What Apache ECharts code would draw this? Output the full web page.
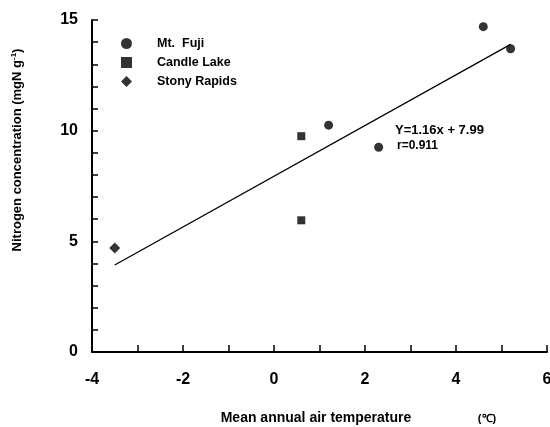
<!DOCTYPE html>
<html>
<head>
<meta charset="utf-8">
<script src="https://cdn.jsdelivr.net/npm/echarts@6/dist/echarts.min.js"></script>
<style>
  html, body { margin: 0; padding: 0; background: #fff; }
  #chart { width: 550px; height: 427px; }
</style>
</head>
<body>
<div id="chart"></div>
<script>
// data
var fujiX = [1.2, 2.3, 4.6, 5.2];
var fujiY = [10.25, 9.25, 14.7, 13.7];
var candleX = [0.6, 0.6];
var candleY = [9.75, 5.95];
var stonyX = [-3.5];
var stonyY = [4.7];
var fitX = [-3.5, 5.2];
var fitY = [3.93, 13.9];
var xTicks = [-4, -2, 0, 2, 4, 6];
var yTicks = [0, 5, 10, 15];

function pairs(xs, ys) {
    return xs.map(function (x, i) { return [x, ys[i]]; });
}

var font = 'Liberation Sans, Arial, sans-serif';
var chart = echarts.init(document.getElementById('chart'));

chart.setOption({
    animation: false,
    grid: { left: 92, right: 3, top: 20, bottom: 75, outerBoundsMode: 'none' },
    legend: {
        orient: 'vertical',
        left: 121,
        top: 37,
        padding: 0,
        itemWidth: 11,
        itemHeight: 11,
        itemGap: 6,
        textStyle: { fontFamily: font, fontSize: 12.5, fontWeight: 'bold', color: '#000', padding: [0, 0, 0, 20] },
        data: [
            { name: 'Mt.  Fuji', icon: 'circle' },
            { name: 'Candle Lake', icon: 'rect' },
            { name: 'Stony Rapids', icon: 'diamond' }
        ]
    },
    xAxis: {
        type: 'value',
        min: xTicks[0],
        max: xTicks[xTicks.length - 1],
        interval: 2,
        axisLine: { onZero: false, lineStyle: { color: '#000', width: 2 } },
        axisTick: { inside: true, length: 7, lineStyle: { color: '#000', width: 1.5 } },
        minorTick: { show: true, splitNumber: 2, length: 7, lineStyle: { color: '#000', width: 1.5 } },
        splitLine: { show: false },
        axisLabel: { margin: 20, fontFamily: font, fontSize: 16, fontWeight: 'bold', color: '#000' }
    },
    yAxis: {
        type: 'value',
        min: yTicks[0],
        max: yTicks[yTicks.length - 1],
        interval: 5,
        axisLine: { show: true, onZero: false, lineStyle: { color: '#000', width: 2 } },
        axisTick: { show: true, inside: true, length: 6, lineStyle: { color: '#000', width: 1.5 } },
        minorTick: { show: true, splitNumber: 5, length: 6, lineStyle: { color: '#000', width: 1.5 } },
        splitLine: { show: false },
        axisLabel: { margin: 14, fontFamily: font, fontSize: 16, fontWeight: 'bold', color: '#000' }
    },
    graphic: [
        {
            type: 'text',
            x: 17, y: 150,
            rotation: Math.PI / 2,
            style: {
                text: '{a|Nitrogen concentration (mgN g}{s|-1}{a|)}',
                align: 'center',
                verticalAlign: 'middle',
                rich: {
                    a: { fontFamily: font, fontSize: 13, fontWeight: 'bold', fill: '#000' },
                    s: { fontFamily: font, fontSize: 8, fontWeight: 'bold', fill: '#000', verticalAlign: 'top', padding: [0, 0, 6, 0] }
                }
            }
        },
        {
            type: 'text',
            x: 316, y: 418,
            style: { text: 'Mean annual air temperature', align: 'center', verticalAlign: 'middle', fontFamily: font, fontSize: 14, fontWeight: 'bold', fill: '#000' }
        },
        {
            type: 'text',
            x: 487, y: 419,
            style: { text: '(℃)', align: 'center', verticalAlign: 'middle', fontFamily: font, fontSize: 11, fontWeight: 'bold', fill: '#000' }
        },
        {
            type: 'text',
            x: 395, y: 130,
            style: { text: 'Y=1.16x + 7.99', verticalAlign: 'middle', fontFamily: font, fontSize: 13, fontWeight: 'bold', fill: '#000' }
        },
        {
            type: 'text',
            x: 397, y: 146,
            style: { text: 'r=0.911', verticalAlign: 'middle', fontFamily: font, fontSize: 12, fontWeight: 'bold', fill: '#000' }
        }
    ],
    series: [
        {
            type: 'line',
            data: pairs(fitX, fitY),
            showSymbol: false,
            lineStyle: { color: '#000', width: 1.3 },
            z: 1
        },
        {
            name: 'Mt.  Fuji',
            type: 'scatter',
            symbol: 'circle',
            symbolSize: 9,
            itemStyle: { color: '#000' },
            data: pairs(fujiX, fujiY)
        },
        {
            name: 'Candle Lake',
            type: 'scatter',
            symbol: 'rect',
            symbolSize: 8,
            itemStyle: { color: '#000' },
            data: pairs(candleX, candleY)
        },
        {
            name: 'Stony Rapids',
            type: 'scatter',
            symbol: 'diamond',
            symbolSize: 11,
            itemStyle: { color: '#000' },
            data: pairs(stonyX, stonyY)
        }
    ]
});
</script>
</body>
</html>
